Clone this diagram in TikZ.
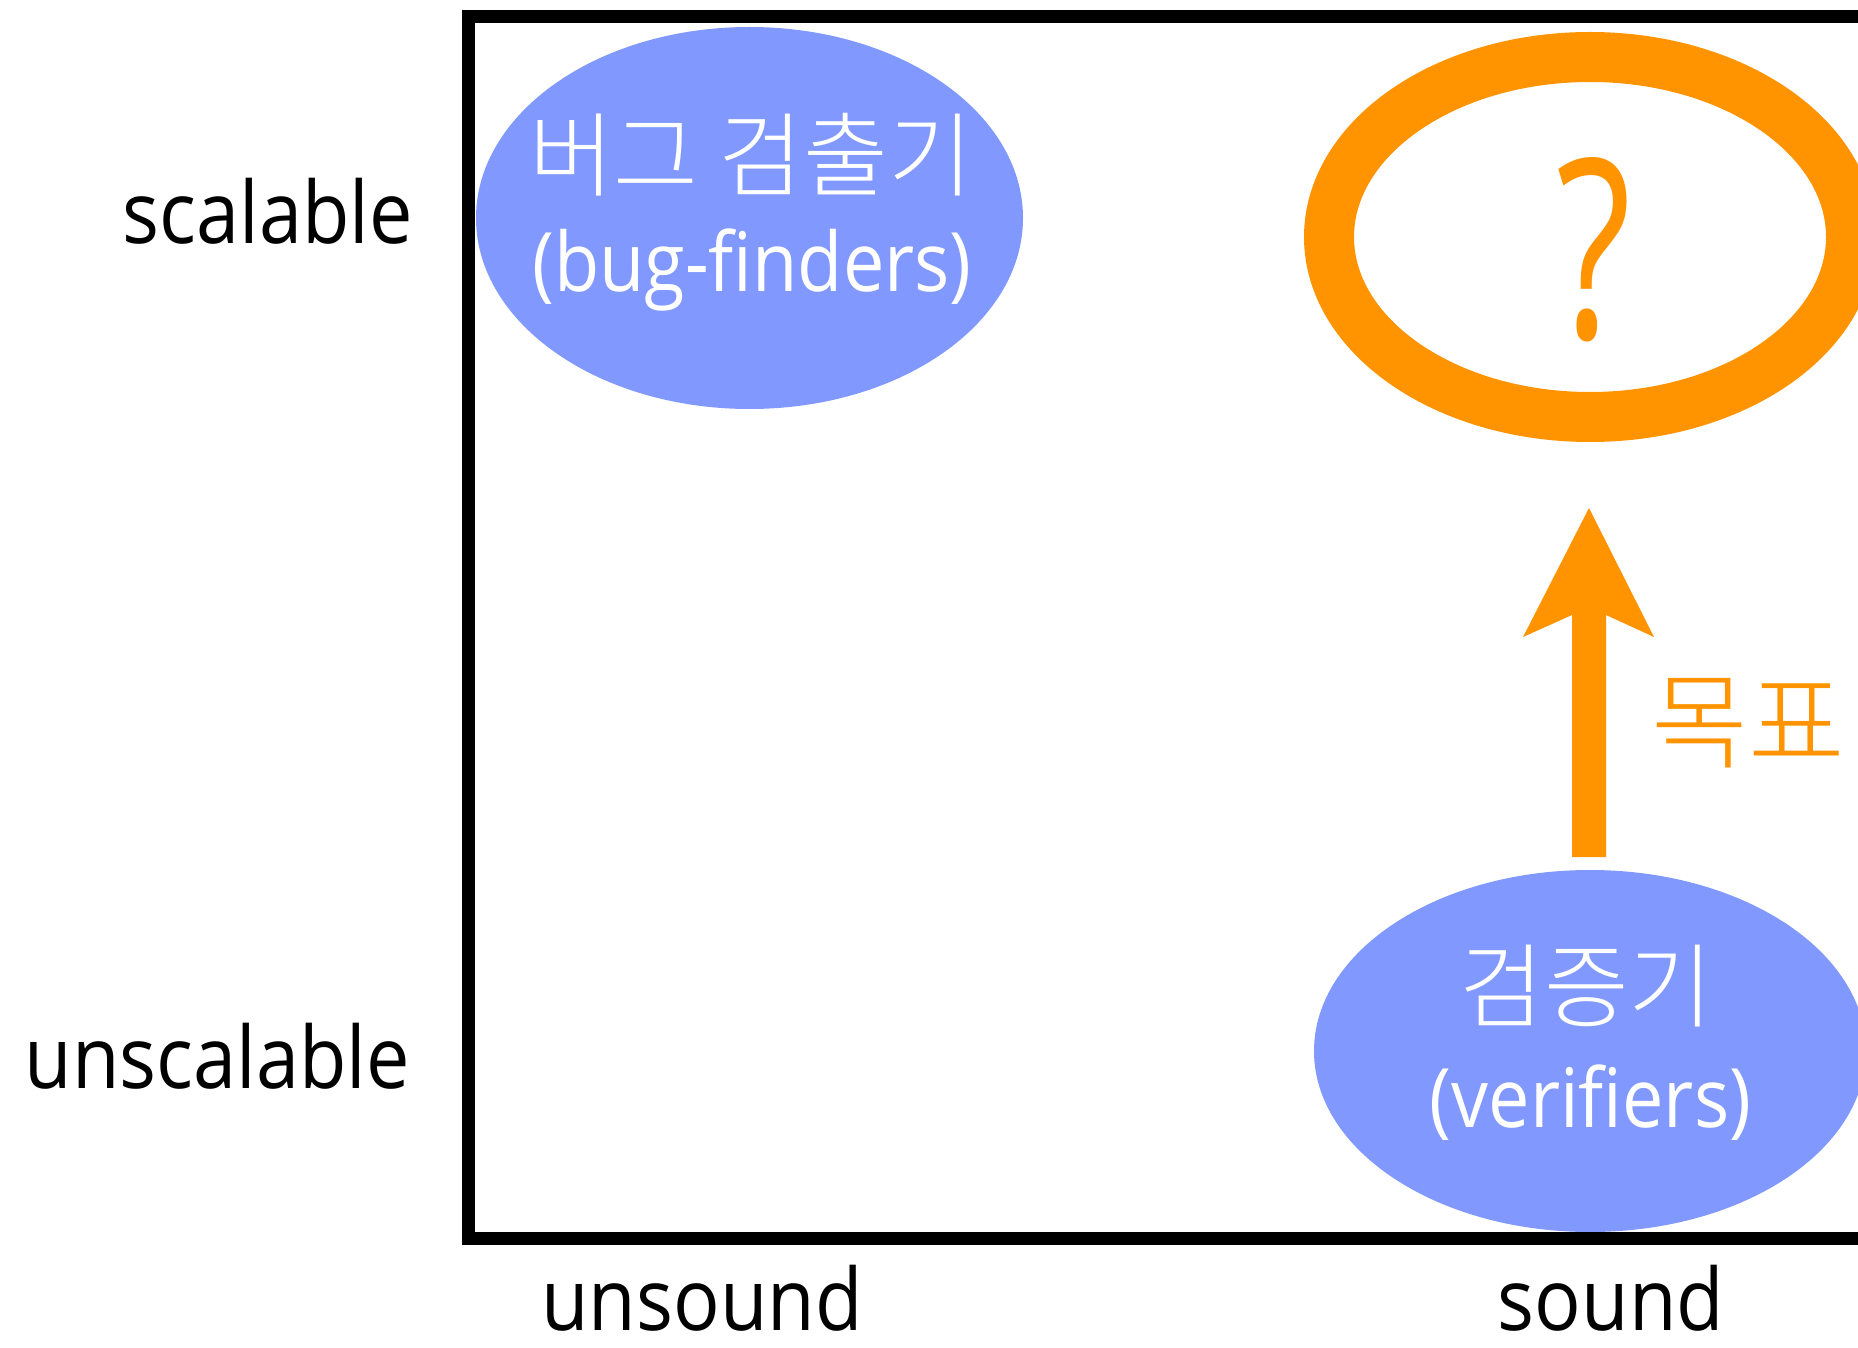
\documentclass[tikz,border=0pt]{standalone}
\usepackage{fontspec}
\setmainfont{Open Sans}[FakeStretch=0.9]
\IfFontExistsTF{Noto Sans CJK KR Light}
  {\newfontfamily\krw{Noto Sans CJK KR Light}}
  {\newfontfamily\krw{Noto Sans CJK KR}}
\usetikzlibrary{shapes.geometric}
\definecolor{bugblue}{RGB}{129,153,255}
\definecolor{goal}{RGB}{255,148,0}
\tikzset{
  axislabel/.style={inner sep=0pt, font=\fontsize{86}{86}\selectfont},
  blob/.style={ellipse, fill=bugblue, inner sep=0pt},
  krtext/.style={inner sep=0pt, text=white, font=\krw\fontsize{92}{92}\selectfont},
  entext/.style={inner sep=0pt, text=white, font=\fontsize{82}{82}\selectfont},
}
\begin{document}
\begin{tikzpicture}[x=1pt,y=-1pt]
\useasboundingbox (0,0) rectangle (1858,1348);
\clip (0,0) rectangle (1858,1348);
\fill[white] (0,0) rectangle (1858,1348);
% blobs
\node[blob, minimum width=547pt, minimum height=382pt] (bug) at (749.5,218) {};
\node[blob, minimum width=552pt, minimum height=362pt] (ver) at (1590,1051) {};
% frame
\draw[line width=13pt] (468,16.5) rectangle (1900,1238);
% goal ring
\node[ellipse, draw=goal, line width=50pt, minimum width=522pt, minimum height=360pt, inner sep=0pt] (ring) at (1590,237) {};
\node[inner sep=0pt, text=goal, font=\fontsize{250}{250}\selectfont] (q) at (1594,250) {\addfontfeatures{FakeStretch=0.7}?};
% texts in blobs
\node[krtext] (bugkr) at (751,154.5) {버그 검출기};
\node[entext] (bugen) at (752,269.5) {(bug-finders)};
\node[krtext] (verkr) at (1586.5,986.5) {검증기};
\node[entext] (veren) at (1590.5,1102.5) {(verifiers)};
% arrow
\coordinate (arrowfoot) at (1589,857);
\coordinate (arrowtip) at (1589,508);
\fill[goal] (arrowfoot) ++(-17,0) -- ++(0,-242) -- ++(-49,22) -- (arrowtip) -- ++(65,129) -- ++(-48,-22) -- ++(0,242) -- cycle;
\node[inner sep=0pt, text=goal, font=\krw\fontsize{105}{105}\selectfont] (goaltxt) at (1748,723.5) {목표};
% axis labels
\node[axislabel, anchor=base east] (sc) at (413,244) {scalable};
\node[axislabel, anchor=base east] (unsc) at (410,1088) {unscalable};
\node[axislabel, anchor=base] (uns) at (702,1330) {unsound};
\node[axislabel, anchor=base] (snd) at (1611,1330) {sound};
\end{tikzpicture}
\end{document}
